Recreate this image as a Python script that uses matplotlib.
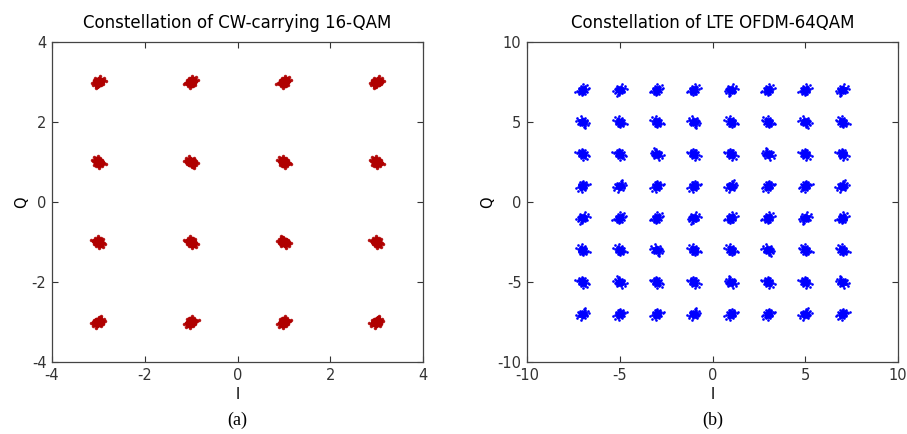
import matplotlib
matplotlib.use('Agg')
import matplotlib.pyplot as plt
import numpy as np

plt.rcParams['axes.unicode_minus'] = False

# ideal symbol levels
levels_16 = [-3, -1, 1, 3]
levels_64 = [-7, -5, -3, -1, 1, 3, 5, 7]

# hand-typed noise pattern around each symbol (unit spread)
noise_dx = [0.1, -0.4, 0.7, -1.1, 0.3, 1.4, -0.2, -0.8, 0.9, -1.6,
            0.5, 0.0, -0.6, 1.1, -0.3, 0.2, -1.3, 0.8, -0.1, 0.6,
            -0.9, 1.8, -0.5, 0.4, -2.1, 1.2, 0.0, -0.7, 0.3, -0.2,
            1.0, -1.0, 0.6, -0.4, 2.3, -1.5, 0.2, 0.9, -0.3, 0.1]
noise_dy = [0.3, 0.8, -0.5, 0.2, -1.2, 0.6, 1.5, -0.7, 0.1, -0.3,
            1.0, -0.9, -1.6, -0.2, 0.4, 2.0, 0.9, 1.1, -0.4, -1.4,
            -1.1, 0.3, 0.6, 0.0, -0.6, -0.8, -0.1, 1.3, 0.7, -2.2,
            1.6, 0.5, -0.3, -1.0, 0.8, -1.7, 0.2, -0.6, -0.2, 1.2]

spread_16 = 0.07
spread_64 = 0.17

titles = ['Constellation of CW-carrying 16-QAM', 'Constellation of LTE OFDM-64QAM']
captions = ['(a)', '(b)']
limits = [4, 10]
ticks = [[-4, -2, 0, 2, 4], [-10, -5, 0, 5, 10]]
colors = ['#b00000', '#0000ff']


def cloud(levels, spread):
    xs, ys = [], []
    dx = np.array(noise_dx)
    dy = np.array(noise_dy)
    k = 0
    for i in levels:
        for q in levels:
            # flip the pattern a little so clusters don't look identical
            sx = 1 if k % 2 == 0 else -1
            sy = 1 if (k // 2) % 2 == 0 else -1
            if k % 3 == 0:
                px, py = dy, dx
            else:
                px, py = dx, dy
            xs.append(i + sx * px * spread)
            ys.append(q + sy * py * spread)
            k += 1
    return np.concatenate(xs), np.concatenate(ys)


fig = plt.figure(figsize=(9.07, 4.34), dpi=100)
ax1 = fig.add_axes([52/907, 72/434, 371/907, 320/434])
ax2 = fig.add_axes([527/907, 72/434, 371/907, 320/434])

for n, ax in enumerate([ax1, ax2]):
    if n == 0:
        x, y = cloud(levels_16, spread_16)
        ax.plot(x, y, '.', color=colors[n], ms=3.0, alpha=0.85)
        x2, y2 = cloud(levels_16, spread_16 * 0.55)
        ax.plot(x2, y2, '.', color=colors[n], ms=5.5)
        x3, y3 = cloud(levels_16, spread_16 * 0.25)
        ax.plot(x3, y3, '.', color=colors[n], ms=7.0)
    else:
        x, y = cloud(levels_64, spread_64)
        ax.plot(x, y, '.', color=colors[n], ms=1.8)
        x2, y2 = cloud(levels_64, spread_64 * 0.45)
        ax.plot(x2, y2, '.', color=colors[n], ms=1.8)
    lim = limits[n]
    ax.set_xlim(-lim, lim)
    ax.set_ylim(-lim, lim)
    ax.set_xticks(ticks[n])
    ax.set_yticks(ticks[n])
    ax.tick_params(direction='in', top=True, right=True, length=4,
                   labelsize=10.5, colors='#333333', pad=4)
    for s in ax.spines.values():
        s.set_color('#444444')
        s.set_linewidth(0.9)
    ax.set_title(titles[n], fontsize=12, pad=10)
    ax.set_xlabel('I', fontsize=10.5, labelpad=3)
    ax.set_ylabel('Q', fontsize=10.5, labelpad=2)
    fig.text((ax.get_position().x0 + ax.get_position().x1) / 2, 14/434, captions[n],
             ha='center', va='center', family='Liberation Serif', fontsize=13)

fig.savefig('out.png', dpi=100)
